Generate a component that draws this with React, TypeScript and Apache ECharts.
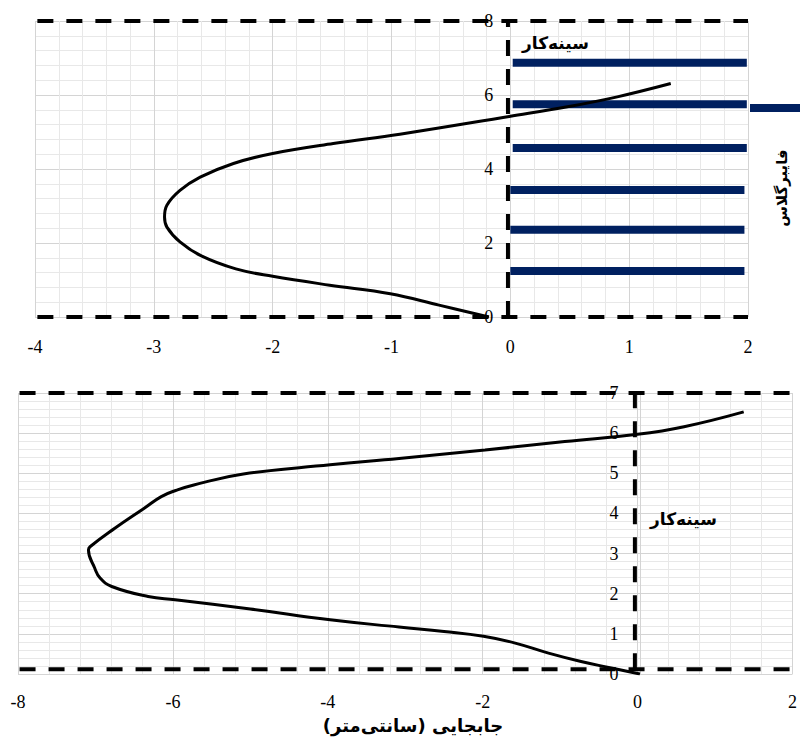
import React, { useEffect, useRef } from "react";
import * as echarts from "echarts";

// Top chart: fibreglass-reinforced face
const topCurveX = [-0.18, -0.6, -1.01, -1.52, -2.0, -2.31, -2.6, -2.78, -2.89, -2.91, -2.89, -2.78, -2.61, -2.33, -2.0, -1.49, -0.93, -0.01, 0.48, 0.9, 1.35];
const topCurveY = [0, 0.32, 0.63, 0.86, 1.1, 1.3, 1.65, 2.03, 2.43, 2.7, 3.02, 3.42, 3.78, 4.15, 4.42, 4.69, 4.94, 5.42, 5.68, 5.95, 6.31];
const stripY = [6.87, 5.75, 4.57, 3.43, 2.36, 1.24];
const stripStart = [0.02, 0.02, 0.02, 0, 0, 0];
const stripEnd = [1.99, 1.99, 1.99, 1.97, 1.97, 1.97];
const topDashH = [8, 0];
const topDashX = -0.02;

// Bottom chart: unreinforced face
const botCurveX = [0.03, -0.34, -0.73, -1.15, -1.58, -1.99, -2.5, -3.08, -3.97, -5.0, -5.97, -6.32, -6.79, -6.94, -7.01, -7.09, -7.07, -6.75, -6.37, -6.15, -5.95, -5.73, -5.09, -3.97, -3.08, -1.97, -0.94, 0, 0.6, 1.37];
const botCurveY = [0, 0.15, 0.31, 0.52, 0.77, 0.94, 1.06, 1.17, 1.35, 1.62, 1.85, 1.93, 2.18, 2.39, 2.64, 3.09, 3.17, 3.63, 4.13, 4.42, 4.58, 4.71, 4.98, 5.21, 5.37, 5.58, 5.79, 5.97, 6.16, 6.53];
const botDashH = [7, 0.12];
const botDashX = -0.035;

const faceLabel = "سینه‌کار";
const fibreLabel = "فایبرگلاس";
const xTitle = "جابجایی (سانتی‌متر)";

const NAVY = "#002060";
const MAJOR = "#d4d4d4";
const MINOR = "#e8e8e8";
const SERIF = "'Liberation Serif', 'DejaVu Serif', serif";
const ARABIC = "'DejaVu Sans', 'Noto Sans', sans-serif";

const TOP_W = 713;
const BOT_W = 778;

export default function App() {
  const ref = useRef<HTMLDivElement>(null);
  useEffect(() => {
    if (!ref.current) return;
    const chart = echarts.init(ref.current, null, { renderer: "svg" });
    const dash = { color: "#000", width: 4, type: [16, 13] as number[] };
    const mkX = (min: number, max: number, interval: number, gridIndex: number, margin: number) => ({
      type: "value",
      gridIndex,
      min,
      max,
      interval,
      axisLine: { show: false, onZero: false },
      axisTick: { show: false },
      axisLabel: { color: "#000", fontFamily: SERIF, fontSize: 18, margin },
      splitLine: { show: true, lineStyle: { color: MAJOR, width: 1 } },
      minorTick: { show: false, splitNumber: 5 },
      minorSplitLine: { show: true, lineStyle: { color: MINOR, width: 1 } },
    });
    // y axis sits on x = 0: offset derived from the x range and grid width
    const mkY = (min: number, max: number, interval: number, gridIndex: number, margin: number, padTop: number, xMin: number, xMax: number, w: number) => ({
      type: "value",
      gridIndex,
      min,
      max,
      interval,
      offset: -((0 - xMin) / (xMax - xMin)) * w,
      axisLine: { show: true, onZero: false, lineStyle: { color: MAJOR, width: 1 } },
      axisTick: { show: false },
      axisLabel: { color: "#000", fontFamily: SERIF, fontSize: 18, margin, padding: [padTop, 0, 0, 0] },
      splitLine: { show: true, lineStyle: { color: MAJOR, width: 1 } },
      minorTick: { show: false, splitNumber: 5 },
      minorSplitLine: { show: true, lineStyle: { color: MINOR, width: 1 } },
    });

    const series: any[] = [];
    topDashH.forEach((y) =>
      series.push({ type: "line", xAxisIndex: 0, yAxisIndex: 0, data: [[-3.98, y], [2, y]], symbol: "none", lineStyle: dash, clip: false, z: 3 })
    );
    series.push({ type: "line", xAxisIndex: 0, yAxisIndex: 0, data: [[topDashX, 0], [topDashX, 8]], symbol: "none", lineStyle: dash, clip: false, z: 3 });
    stripY.forEach((y, i) =>
      series.push({ type: "line", xAxisIndex: 0, yAxisIndex: 0, data: [[stripStart[i], y], [stripEnd[i], y]], symbol: "none", lineStyle: { color: NAVY, width: 8, cap: "butt" }, z: 4 })
    );
    series.push({
      type: "line", xAxisIndex: 0, yAxisIndex: 0,
      data: topCurveX.map((x, i) => [x, topCurveY[i]]),
      symbol: "none", smooth: 0.4, lineStyle: { color: "#000", width: 3 }, z: 5,
    });
    botDashH.forEach((y) =>
      series.push({ type: "line", xAxisIndex: 1, yAxisIndex: 1, data: [[-7.98, y], [2.05, y]], symbol: "none", lineStyle: dash, clip: false, z: 3 })
    );
    series.push({ type: "line", xAxisIndex: 1, yAxisIndex: 1, data: [[botDashX, 0.12], [botDashX, 7]], symbol: "none", lineStyle: dash, clip: false, z: 3 });
    series.push({
      type: "line", xAxisIndex: 1, yAxisIndex: 1,
      data: botCurveX.map((x, i) => [x, botCurveY[i]]),
      symbol: "none", smooth: 0.45, lineStyle: { color: "#000", width: 3 }, z: 5,
    });

    chart.setOption({
      animation: false,
      backgroundColor: "#fff",
      grid: [
        { left: 35, top: 21, width: TOP_W, height: 296 },
        { left: 18, top: 393, width: BOT_W, height: 281 },
      ],
      xAxis: [mkX(-4, 2, 1, 0, 21), mkX(-8, 2, 2, 1, 19)],
      yAxis: [mkY(0, 8, 2, 0, 17, 0, -4, 2, TOP_W), mkY(0, 7, 1, 1, 22, 6, -8, 2, BOT_W)],
      series,
      graphic: [
        { type: "text", left: 522, top: 34, style: { text: faceLabel, font: `bold 17px ${ARABIC}`, fill: "#000" }, z: 10 },
        { type: "text", left: 650, top: 510, style: { text: faceLabel, font: `bold 17px ${ARABIC}`, fill: "#000" }, z: 10 },
        { type: "rect", shape: { x: 750, y: 104, width: 52, height: 8 }, style: { fill: NAVY }, z: 10 },
        {
          type: "text", x: 782, y: 188, rotation: Math.PI / 2,
          style: { text: fibreLabel, font: `bold 15px ${ARABIC}`, fill: "#000", align: "center", verticalAlign: "middle" }, z: 10,
        },
        {
          type: "text", x: 413, y: 725,
          style: { text: xTitle, font: `bold 18px ${ARABIC}`, fill: "#000", align: "center", verticalAlign: "middle" }, z: 10,
        },
      ],
    });
    return () => chart.dispose();
  }, []);
  return <div ref={ref} style={{ position: "fixed", left: 0, top: 0, width: 800, height: 738, background: "#fff" }} />;
}
